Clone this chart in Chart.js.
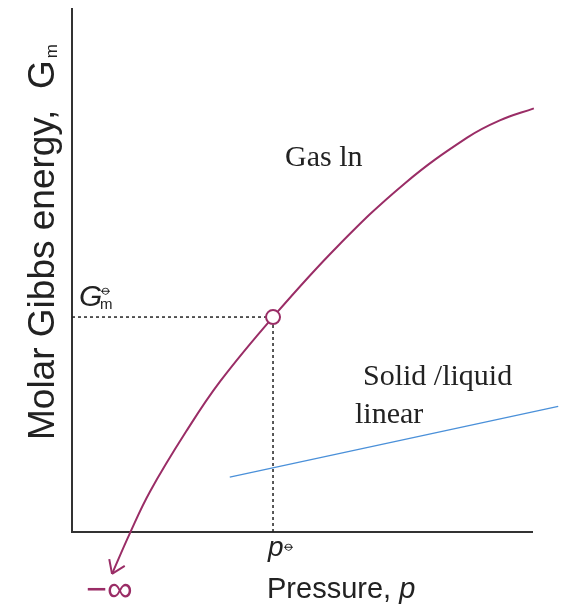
<!DOCTYPE html>
<html>
<head>
<meta charset="utf-8">
<script src="https://cdn.jsdelivr.net/npm/chart.js@4"></script>
<style>
  html, body { margin: 0; padding: 0; background: #fff; }
  #wrap { width: 568px; height: 606px; }
</style>
</head>
<body>
<div id="wrap"><canvas id="chart" width="568" height="606"></canvas></div>
<script>
// gas curve (pressure, molar Gibbs energy)
const gasP = [0.87, 1.26, 1.70, 2.48, 3.22, 4.37, 5.76, 7.24, 8.59, 9.30, 10.04];
const gasG = [-0.80, -0.02, 0.78, 1.92, 2.88, 4.11, 5.45, 6.67, 7.54, 7.87, 8.10];

// solid / liquid straight line
const solidP = [3.43, 10.57];
const solidG = [1.05, 2.40];

// standard state point
const stdP = 4.37;
const stdG = 4.11;

const maroon = '#9a2d66';
const blue = '#4a90d9';
const ink = '#222';

const toPts = (xs, ys) => xs.map((x, i) => ({ x: x, y: ys[i] }));

const labels = {
  id: 'labels',
  afterDraw(chart) {
    const ctx = chart.ctx;
    const x = chart.scales.x, y = chart.scales.y;
    ctx.save();

    // arrow head at the low end of the gas curve
    const p0 = { x: x.getPixelForValue(gasP[0]), y: y.getPixelForValue(gasG[0]) };
    const p1 = { x: x.getPixelForValue(gasP[1]), y: y.getPixelForValue(gasG[1]) };
    const ang = Math.atan2(p0.y - p1.y, p0.x - p1.x);
    ctx.strokeStyle = maroon;
    ctx.lineWidth = 2;
    ctx.beginPath();
    [-0.6, 0.6].forEach(d => {
      ctx.moveTo(p0.x, p0.y);
      ctx.lineTo(p0.x - 15 * Math.cos(ang + d), p0.y - 15 * Math.sin(ang + d));
    });
    ctx.stroke();

    // serif notes
    ctx.fillStyle = ink;
    ctx.font = '30px "Liberation Serif"';
    ctx.textBaseline = 'alphabetic';
    ctx.fillText('Gas ln', 285, 166);
    ctx.fillText('Solid /liquid', 363, 385);
    ctx.fillText('linear', 355, 423);

    // G m standard
    ctx.font = 'italic 30px "Liberation Sans"';
    ctx.fillText('G', 79, 306);
    ctx.font = '16px "DejaVu Sans"';
    ctx.fillText('\u29B5', 99, 294);
    ctx.font = '15px "Liberation Sans"';
    ctx.fillText('m', 100, 309);

    // p standard
    const px = x.getPixelForValue(stdP);
    ctx.font = 'italic 28px "Liberation Sans"';
    ctx.fillText('p', px - 5, 556);
    ctx.font = '16px "DejaVu Sans"';
    ctx.fillText('\u29B5', px + 9, 550);

    // x title
    ctx.font = '29px "Liberation Sans"';
    const t = 'Pressure, ';
    ctx.fillText(t, 267, 598);
    const w = ctx.measureText(t).width;
    ctx.font = 'italic 29px "Liberation Sans"';
    ctx.fillText('p', 267 + w, 598);

    // minus infinity
    ctx.fillStyle = maroon;
    ctx.font = '36px "Liberation Sans"';
    ctx.fillText('\u2212\u221E', 86, 601);

    // y title
    ctx.fillStyle = ink;
    ctx.translate(54, 440);
    ctx.rotate(-Math.PI / 2);
    ctx.font = '37px "Liberation Sans"';
    const yt = 'Molar Gibbs energy,  G';
    ctx.fillText(yt, 0, 0);
    const yw = ctx.measureText(yt).width;
    ctx.font = '17px "Liberation Sans"';
    ctx.fillText('m', yw + 2, 3);

    ctx.restore();
  }
};

new Chart(document.getElementById('chart'), {
  type: 'scatter',
  data: {
    datasets: [
      {
        data: [{ x: stdP, y: stdG }],
        pointRadius: 7,
        pointBackgroundColor: '#fff',
        pointBorderColor: maroon,
        pointBorderWidth: 2,
        order: 0,
        clip: false
      },
      {
        data: toPts(gasP, gasG),
        showLine: true,
        borderColor: maroon,
        borderWidth: 2,
        pointRadius: 0,
        tension: 0.4,
        order: 1,
        clip: false
      },
      {
        data: toPts(solidP, solidG),
        showLine: true,
        borderColor: blue,
        borderWidth: 1.3,
        pointRadius: 0,
        order: 2,
        clip: false
      },
      {
        data: [{ x: 0, y: stdG }, { x: stdP, y: stdG }],
        showLine: true,
        borderColor: ink,
        borderWidth: 1.5,
        borderDash: [3, 3],
        pointRadius: 0,
        order: 3
      },
      {
        data: [{ x: stdP, y: 0 }, { x: stdP, y: stdG }],
        showLine: true,
        borderColor: ink,
        borderWidth: 1.5,
        borderDash: [3, 3],
        pointRadius: 0,
        order: 3
      }
    ]
  },
  options: {
    responsive: false,
    animation: false,
    events: [],
    layout: { padding: { left: 64, right: 36, top: 4, bottom: 66 } },
    plugins: { legend: { display: false }, tooltip: { enabled: false } },
    scales: {
      x: {
        min: 0, max: 10,
        grid: { display: false },
        ticks: { display: false },
        border: { color: '#333', width: 2 }
      },
      y: {
        min: 0, max: 10,
        grid: { display: false },
        ticks: { display: false },
        border: { color: '#333', width: 2 }
      }
    }
  },
  plugins: [labels]
});
</script>
</body>
</html>
